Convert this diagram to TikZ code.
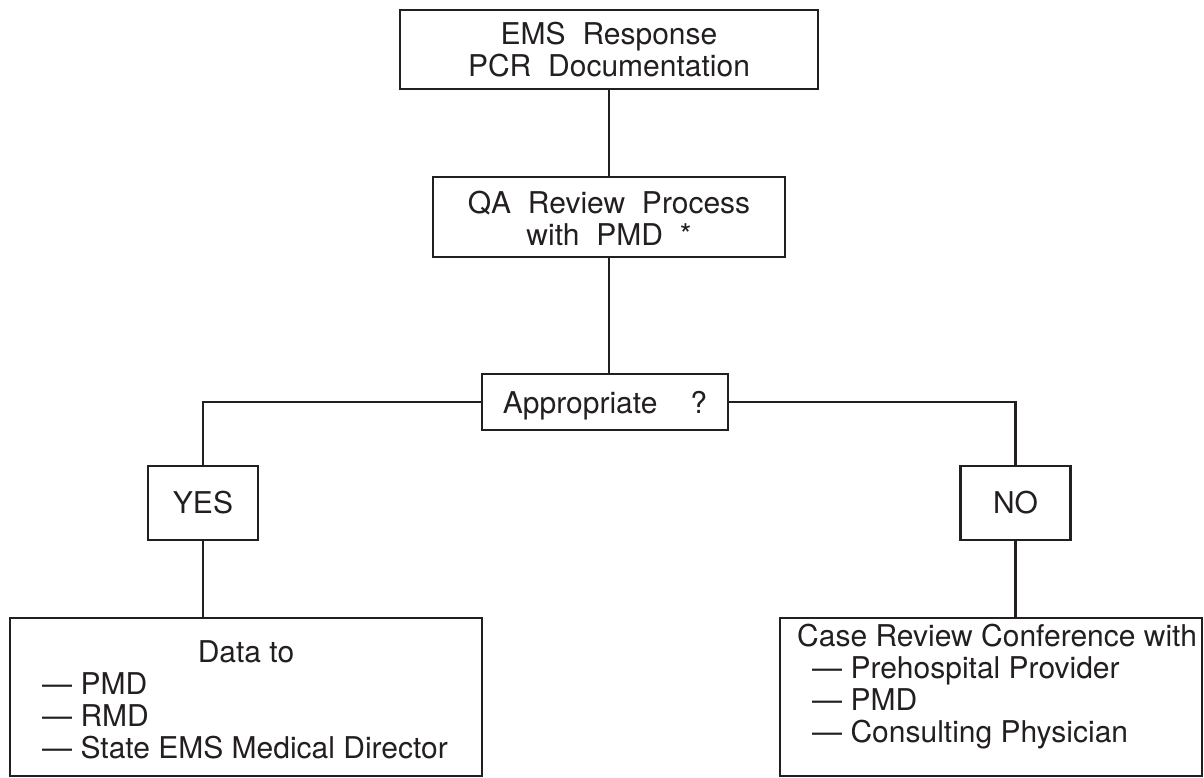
\documentclass[tikz,border=0pt]{standalone}
\usepackage{fontspec}
\setmainfont{TeX Gyre Heros}
\definecolor{ink}{HTML}{231F20}
\begin{document}
\begin{tikzpicture}[x=1pt,y=-1pt,
  box/.style={draw=ink, line width=2.2pt, inner sep=0pt, rectangle},
  txt/.style={inner sep=0pt, font=\fontsize{30}{32}\selectfont, text=ink},
  link/.style={draw=ink, line width=2.2pt}]
\useasboundingbox (0,0) rectangle (1204,778);
% boxes
\node[box, minimum width=418pt, minimum height=79pt] (top) at (609,49.5) {};
\node[box, minimum width=352pt, minimum height=80pt] (qa) at (609,217) {};
\node[box, minimum width=246pt, minimum height=56pt] (appr) at (605,402) {};
\node[box, minimum width=110pt, minimum height=74pt] (yes) at (203,503) {};
\node[box, minimum width=110pt, minimum height=74pt] (no) at (1015.5,503) {};
\node[box, minimum width=472pt, minimum height=158pt] (data) at (246,697) {};
\node[box, minimum width=422pt, minimum height=158pt] (case) at (991,697) {};
% texts
\node[txt, anchor=base] (t1) at (609,45) {EMS\hspace{0.56em}Response};
\node[txt, anchor=base] (t2) at (609,77) {PCR\hspace{0.56em}Documentation};
\node[txt, anchor=base] (q1) at (609,213) {QA\hspace{0.56em}Review\hspace{0.56em}Process};
\node[txt, anchor=base] (q2) at (609,245) {with\hspace{0.56em}PMD\hspace{0.56em}*};
\node[txt, anchor=base] (a1) at (605,413) {Appropriate\hspace{1.1em}?};
\node[txt, anchor=base] (y1) at (203,513) {YES};
\node[txt, anchor=base] (n1) at (1015.5,513) {NO};
\node[txt, anchor=base] (d0) at (246,662) {Data to};
\node[txt, anchor=base west] (d1) at (42,694) {— PMD};
\node[txt, anchor=base west] (d2) at (42,726) {— RMD};
\node[txt, anchor=base west] (d3) at (42,758) {— State EMS Medical Director};
\node[txt, anchor=base west] (c0) at (797,646) {Case Review Conference with};
\node[txt, anchor=base west] (c1) at (812,678) {— Prehospital Provider};
\node[txt, anchor=base west] (c2) at (812,710) {— PMD};
\node[txt, anchor=base west] (c3) at (812,742) {— Consulting Physician};
% connectors
\draw[link] (top.south) -- (qa.north);
\draw[link] (qa.south) -- (qa.south |- appr.north);
\draw[link] (appr.west) -| (yes.north);
\draw[link] (appr.east) -| (no.north);
\draw[link] (yes.south) -- (yes.south |- data.north);
\draw[link] (no.south) -- (no.south |- case.north);
\end{tikzpicture}
\end{document}
